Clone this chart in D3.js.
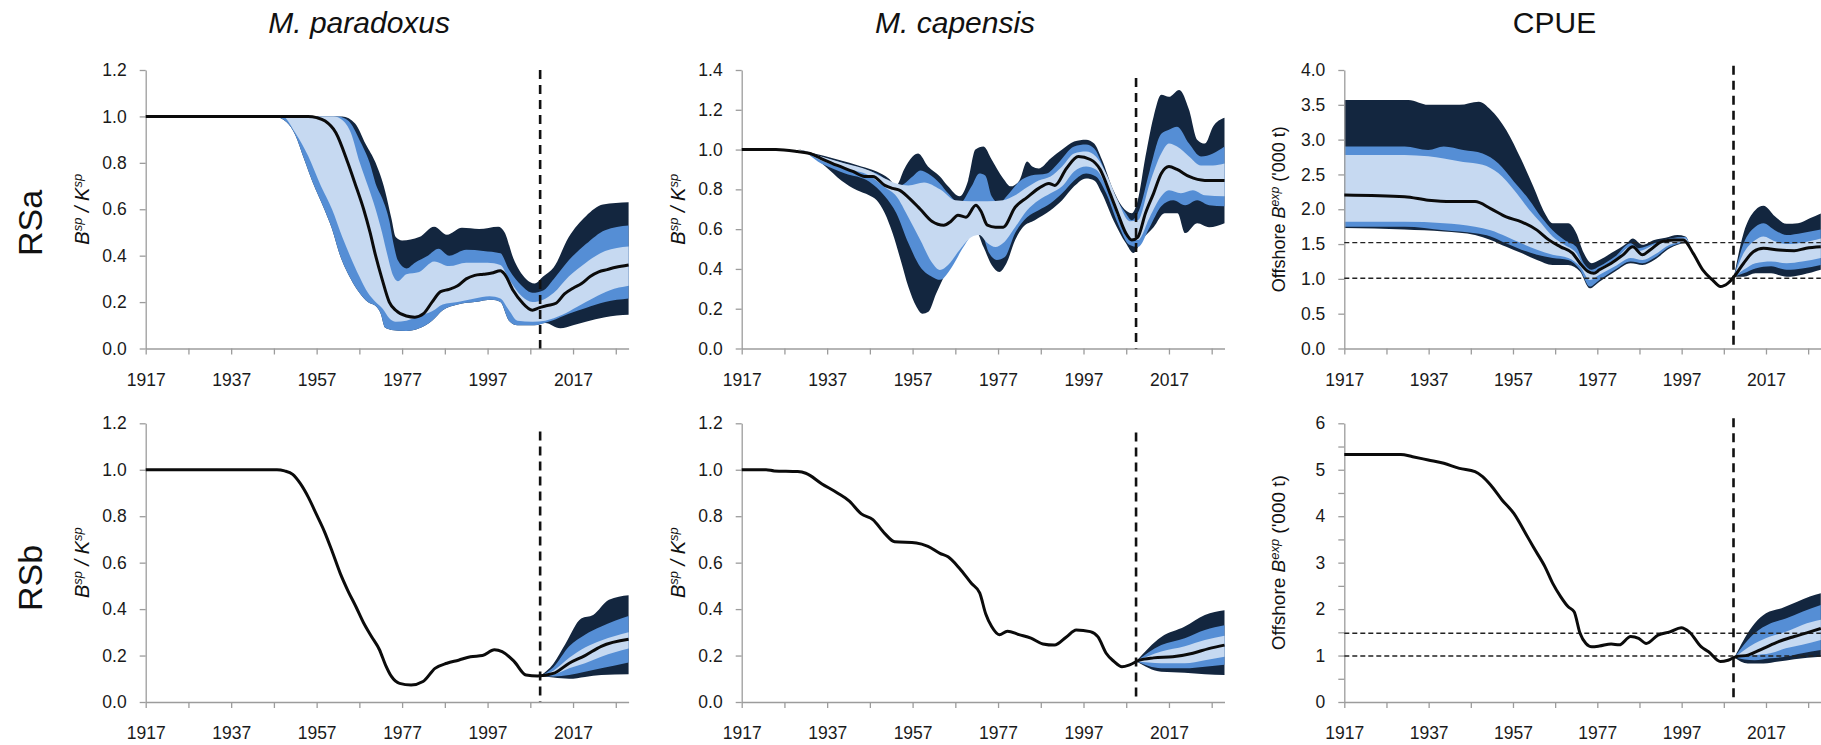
<!DOCTYPE html>
<html>
<head>
<meta charset="utf-8">
<script src="https://cdn.jsdelivr.net/npm/d3@7"></script>
<style>
  html, body { margin: 0; padding: 0; background: #fff; }
  svg { display: block; }
  .tick text { font-family: "Liberation Sans Narrow", "Liberation Sans", Arial, sans-serif; font-size: 17.5px; fill: #1a1a1a; }
  .domain, .tick line { stroke: #9c9c9c; stroke-width: 1.3px; }
  .title { font-family: "Liberation Sans", Arial, sans-serif; font-size: 30px; fill: #111; text-anchor: middle; }
  .rowlab { font-family: "Liberation Sans Narrow", "Liberation Sans", Arial, sans-serif; font-size: 34px; fill: #111; text-anchor: middle; }
  .ytitle { font-family: "Liberation Sans", Arial, sans-serif; fill: #111; text-anchor: middle; }
</style>
</head>
<body>
<svg id="chart" width="1821" height="745"></svg>
<script>
// year ticks (every 10 yrs, labelled every 20)
const xTicks = [1917, 1927, 1937, 1947, 1957, 1967, 1977, 1987, 1997, 2007, 2017, 2027];
const xLabels = [1917, 1937, 1957, 1977, 1997, 2017];
const projYear = 2009.3;

// ---- M. paradoxus, RSa ----
const paraA_med = [[1917,1],[1955,1],[1957,0.995],[1959,0.98],[1961.5,0.93],[1964.3,0.8],[1966,0.71],[1968,0.6],[1969.5,0.5],[1970.8,0.4],[1972.3,0.3],[1974,0.2],[1975.5,0.165],[1978,0.14],[1980,0.135],[1982,0.15],[1984,0.2],[1986,0.245],[1988,0.255],[1990,0.27],[1992,0.3],[1994,0.315],[1996,0.32],[1998,0.325],[2000,0.335],[2001,0.32],[2003,0.25],[2005,0.2],[2007.5,0.165],[2009,0.175],[2011,0.185],[2013,0.195],[2015,0.235],[2017,0.26],[2019,0.28],[2021,0.31],[2023,0.33],[2025,0.34],[2027,0.35],[2030,0.36]];
const paraA_hi1 = [[1917,1],[1961,1],[1963,0.985],[1965,0.93],[1967.1,0.8],[1969,0.7],[1970.8,0.6],[1972.3,0.5],[1973.6,0.4],[1975,0.31],[1976,0.29],[1978,0.32],[1981,0.33],[1984.5,0.375],[1988,0.355],[1992,0.37],[1997,0.37],[2000,0.36],[2002,0.3],[2005,0.225],[2007.5,0.2],[2010,0.21],[2012.5,0.24],[2016,0.31],[2020,0.37],[2024.5,0.42],[2030,0.44]];
const paraA_lo1 = [[1917,1],[1949,1],[1952,0.93],[1955,0.83],[1958,0.7],[1960.6,0.6],[1963,0.48],[1964.8,0.4],[1967,0.31],[1969,0.24],[1970.8,0.2],[1972.5,0.17],[1974,0.13],[1975.5,0.115],[1978,0.12],[1981,0.14],[1984,0.16],[1986.5,0.19],[1990,0.2],[1994,0.215],[1997.5,0.225],[2000,0.215],[2002,0.165],[2004,0.12],[2007.5,0.115],[2010.5,0.12],[2014.5,0.145],[2018,0.18],[2022,0.22],[2025.5,0.25],[2030,0.27]];
const paraA_hi2 = [[1917,1],[1962,1],[1964.5,0.98],[1967,0.9],[1969.4,0.8],[1971,0.7],[1972.5,0.64],[1974,0.55],[1975,0.45],[1976,0.38],[1978,0.345],[1980,0.37],[1983,0.4],[1985.5,0.43],[1988,0.4],[1992,0.425],[1996,0.42],[2000,0.41],[2002,0.34],[2005,0.27],[2007.5,0.24],[2010,0.25],[2012.5,0.3],[2016,0.38],[2020,0.45],[2024.5,0.51],[2030,0.53]];
const paraA_lo2 = [[1917,1],[1947,1],[1950,0.975],[1952,0.92],[1954,0.82],[1956,0.72],[1958.8,0.6],[1960.5,0.52],[1962.5,0.4],[1965,0.3],[1967,0.24],[1969,0.2],[1971,0.18],[1972,0.15],[1973,0.09],[1974.5,0.08],[1978,0.075],[1981,0.087],[1984,0.12],[1986.5,0.165],[1990,0.19],[1994,0.2],[1998,0.21],[2000,0.2],[2002,0.12],[2004,0.1],[2007.5,0.1],[2012,0.12],[2016,0.15],[2020,0.175],[2024.5,0.2],[2030,0.215]];
const paraA_hi3 = [[1917,1],[1963,1],[1966,0.97],[1968.5,0.88],[1970.8,0.8],[1973,0.68],[1974.5,0.56],[1975.5,0.48],[1977,0.465],[1981,0.48],[1984.5,0.525],[1987.5,0.49],[1991,0.52],[1995,0.515],[1999.5,0.525],[2001,0.5],[2003,0.39],[2006,0.3],[2008,0.28],[2010,0.31],[2012.5,0.35],[2016,0.48],[2020,0.57],[2024,0.62],[2030,0.63]];
const paraA_lo3 = [[1917,1],[1947,1],[1950,0.975],[1952,0.92],[1954,0.82],[1956,0.72],[1958.8,0.6],[1960.5,0.52],[1962.5,0.4],[1965,0.3],[1967,0.24],[1969,0.2],[1971,0.18],[1972,0.15],[1973,0.09],[1974.5,0.08],[1978,0.075],[1981,0.087],[1984,0.12],[1986.5,0.165],[1990,0.19],[1994,0.2],[1998,0.21],[2000,0.2],[2002,0.12],[2004,0.1],[2008,0.1],[2010.5,0.11],[2014,0.087],[2017,0.1],[2020,0.115],[2024.5,0.135],[2030,0.145]];

// ---- M. capensis, RSa ----
const capeA_med = [[1917,1],[1925,1],[1930,0.99],[1933,0.98],[1935.6,0.955],[1939.4,0.92],[1943,0.89],[1945.8,0.865],[1947.7,0.865],[1950.5,0.82],[1952.3,0.805],[1954,0.795],[1956,0.76],[1958.8,0.7],[1961.5,0.64],[1964.3,0.62],[1966,0.64],[1967.6,0.67],[1969.5,0.66],[1971.8,0.72],[1973,0.69],[1974.5,0.62],[1976.4,0.61],[1978.2,0.61],[1981,0.71],[1983.8,0.76],[1986.5,0.805],[1988.9,0.83],[1990.3,0.82],[1993,0.905],[1995.8,0.965],[1998.6,0.95],[2000.9,0.9],[2003.2,0.78],[2005,0.68],[2006.9,0.58],[2008.3,0.545],[2009.7,0.56],[2011.5,0.68],[2013.4,0.78],[2015.2,0.88],[2017,0.915],[2018.9,0.9],[2021.7,0.865],[2025.4,0.845],[2030,0.845]];
const capeA_hi1 = [[1917,1],[1930,1],[1935.6,0.965],[1941.2,0.93],[1946.8,0.895],[1950.5,0.855],[1953.2,0.83],[1956,0.82],[1959.7,0.835],[1963.4,0.8],[1967,0.745],[1970.8,0.74],[1974.5,0.74],[1978.2,0.745],[1981,0.77],[1983.8,0.81],[1986.5,0.845],[1989.3,0.865],[1992,0.915],[1994.8,0.98],[1997.6,0.99],[1999.9,0.965],[2002.3,0.88],[2005,0.745],[2007.8,0.64],[2009.7,0.645],[2012.5,0.83],[2015.2,0.98],[2017,1.03],[2018.9,1.015],[2021.7,0.965],[2024.5,0.92],[2027.3,0.92],[2030,0.93]];
const capeA_lo1 = [[1917,1],[1930,1],[1935.6,0.945],[1941.2,0.905],[1946.8,0.87],[1950.5,0.81],[1953.2,0.765],[1956,0.66],[1958.8,0.545],[1961.6,0.43],[1963.4,0.395],[1965.3,0.42],[1968,0.495],[1970.8,0.56],[1972.6,0.57],[1974.5,0.53],[1976.4,0.51],[1978.2,0.53],[1981,0.61],[1983.8,0.695],[1986.5,0.745],[1989.3,0.78],[1992,0.815],[1994.8,0.89],[1997.6,0.915],[1999.9,0.9],[2002.3,0.815],[2005,0.66],[2007.8,0.555],[2009.7,0.545],[2012.5,0.66],[2015.2,0.765],[2017,0.795],[2019.8,0.78],[2022.6,0.795],[2025.4,0.77],[2030,0.765]];
const capeA_hi2 = [[1917,1],[1930,1],[1933,0.98],[1939.4,0.94],[1945,0.905],[1948.6,0.88],[1952.3,0.83],[1954,0.82],[1957,0.865],[1958.8,0.895],[1960.6,0.88],[1963.4,0.83],[1965.3,0.78],[1968,0.73],[1970.8,0.815],[1972.6,0.88],[1974,0.87],[1975.5,0.765],[1977.3,0.73],[1979,0.765],[1982,0.84],[1984.7,0.87],[1988.4,0.88],[1991,0.93],[1994.8,1.015],[1997.6,1.025],[1999.5,1.005],[2001.3,0.93],[2004,0.78],[2006.9,0.68],[2008.3,0.645],[2010,0.695],[2012.5,0.895],[2015.2,1.08],[2017,1.1],[2018.9,1.115],[2021.7,1.03],[2024.5,0.965],[2027.3,0.98],[2030,1.015]];
const capeA_lo2 = [[1917,1],[1930,1],[1935.6,0.93],[1941.2,0.88],[1946.8,0.84],[1950.5,0.765],[1953.2,0.68],[1956,0.53],[1958.8,0.41],[1961.6,0.36],[1963.4,0.345],[1966.2,0.41],[1968.9,0.51],[1971.7,0.58],[1973,0.58],[1974.9,0.48],[1976.7,0.445],[1978.6,0.46],[1981,0.58],[1983.8,0.66],[1986.5,0.695],[1989.3,0.73],[1992,0.78],[1994.8,0.845],[1997.6,0.88],[1999.9,0.865],[2002.3,0.78],[2005,0.63],[2007.8,0.52],[2009.7,0.51],[2012.5,0.61],[2015.2,0.715],[2018,0.745],[2020.8,0.72],[2023.6,0.745],[2026.4,0.72],[2030,0.715]];
const capeA_hi3 = [[1917,1],[1930,1],[1933,0.985],[1939.4,0.95],[1945,0.915],[1948.6,0.89],[1951.4,0.855],[1953.2,0.82],[1955,0.9],[1957,0.965],[1958.3,0.98],[1960.6,0.915],[1963.4,0.865],[1965.3,0.815],[1968,0.765],[1970,0.845],[1971.7,1.0],[1973.6,1.015],[1975.5,0.95],[1978.2,0.855],[1980,0.815],[1982,0.845],[1983.8,0.94],[1985,0.915],[1986.5,0.905],[1989.3,0.955],[1992,1.0],[1994.8,1.04],[1997.6,1.05],[1999.5,1.03],[2001.3,0.95],[2004,0.795],[2006,0.715],[2008.3,0.68],[2009.7,0.745],[2011.5,0.965],[2013.4,1.165],[2015.2,1.275],[2017,1.265],[2019.4,1.3],[2021.7,1.2],[2023.6,1.05],[2025.4,1.03],[2027.3,1.115],[2030,1.16]];
const capeA_lo3 = [[1917,1],[1930,1],[1933,0.975],[1936.6,0.915],[1940.3,0.845],[1944,0.795],[1946.8,0.77],[1948.6,0.745],[1950.5,0.68],[1952.3,0.58],[1954.2,0.445],[1956,0.31],[1957.9,0.21],[1959.3,0.175],[1960.7,0.185],[1962.5,0.275],[1964.3,0.36],[1966.2,0.445],[1968,0.51],[1970,0.58],[1971.7,0.595],[1973.6,0.51],[1975.5,0.42],[1977.3,0.385],[1979,0.43],[1981,0.545],[1982.8,0.61],[1985.6,0.645],[1989.3,0.695],[1992,0.745],[1994.8,0.815],[1997.6,0.855],[1999.5,0.845],[2001.3,0.78],[2004,0.645],[2006.9,0.53],[2008.7,0.48],[2010.6,0.545],[2013.4,0.61],[2016,0.68],[2019,0.68],[2020.8,0.58],[2023.6,0.63],[2026.4,0.61],[2030,0.63]];

// ---- CPUE, RSa ('000 t); null splits the historic and projected bands ----
const cpueA_med = [[1917,2.205],[1931.3,2.18],[1936.9,2.13],[1942.4,2.11],[1948,2.11],[1951.7,2.01],[1955.4,1.89],[1959,1.82],[1962.7,1.7],[1965.5,1.56],[1968.3,1.46],[1971.1,1.37],[1972.9,1.225],[1974.8,1.105],[1976.2,1.08],[1977.5,1.13],[1980.3,1.225],[1983.1,1.345],[1985.4,1.46],[1987.7,1.345],[1989.5,1.415],[1992.3,1.535],[1995.1,1.56],[1997.4,1.56],[1999.7,1.37],[2002,1.13],[2004.3,0.985],[2006.2,0.89],[2008,0.94],[2009.4,1.03],[2011.7,1.225],[2014,1.39],[2016.4,1.44],[2020,1.415],[2023.7,1.405],[2026.5,1.44],[2030,1.46]];
const cpueA_hi1 = [[1917,2.78],[1931.3,2.78],[1936.9,2.76],[1940.6,2.73],[1945.2,2.68],[1949.8,2.64],[1953.5,2.52],[1957.2,2.28],[1960.9,1.99],[1963.7,1.8],[1966.4,1.61],[1969.2,1.49],[1972,1.37],[1973.8,1.18],[1975.7,1.08],[1977.5,1.15],[1981.2,1.27],[1984.9,1.46],[1986.8,1.4],[1990.5,1.49],[1994.2,1.57],[1997.9,1.58],[1999,1.47], null, [2009.4,1.03],[2011.7,1.37],[2014.5,1.56],[2016.4,1.61],[2019.1,1.54],[2021.9,1.5],[2025.6,1.52],[2030,1.58]];
const cpueA_lo1 = [[1917,1.82],[1931.3,1.82],[1940.6,1.8],[1948,1.75],[1951.7,1.7],[1955.4,1.61],[1959,1.51],[1962.7,1.42],[1966.4,1.345],[1970.1,1.3],[1972.9,1.18],[1975.2,0.985],[1977.5,1.06],[1981.2,1.18],[1984.9,1.3],[1987.7,1.27],[1990.5,1.345],[1994.2,1.49],[1997.9,1.535],[1999,1.47], null, [2009.4,1.03],[2011.7,1.13],[2014.5,1.225],[2018.2,1.25],[2021.9,1.225],[2025.6,1.25],[2030,1.3]];
const cpueA_hi2 = [[1917,2.9],[1931.3,2.9],[1936.9,2.85],[1940.6,2.9],[1945.2,2.85],[1949.8,2.8],[1953.5,2.66],[1957.2,2.4],[1960.9,2.13],[1963.7,1.89],[1966.4,1.7],[1969.2,1.56],[1972,1.46],[1973.8,1.225],[1975.7,1.13],[1977.5,1.18],[1981.2,1.32],[1984.9,1.51],[1986.8,1.44],[1990.5,1.51],[1994.2,1.58],[1997.9,1.6],[1999,1.47], null, [2009.4,1.03],[2011.7,1.51],[2014.5,1.75],[2016.4,1.8],[2019.1,1.7],[2021.9,1.63],[2025.6,1.66],[2030,1.71]];
const cpueA_lo2 = [[1917,1.75],[1931.3,1.75],[1940.6,1.7],[1948,1.655],[1951.7,1.61],[1955.4,1.51],[1959,1.42],[1962.7,1.345],[1966.4,1.3],[1970.1,1.27],[1972.9,1.13],[1975.2,0.89],[1977.5,0.985],[1981.2,1.13],[1984.9,1.25],[1987.7,1.225],[1990.5,1.3],[1994.2,1.46],[1997.9,1.52],[1999,1.47], null, [2009.4,1.03],[2011.7,1.08],[2014.5,1.15],[2018.2,1.18],[2021.9,1.13],[2025.6,1.15],[2030,1.2]];
const cpueA_hi3 = [[1917,3.57],[1932.2,3.57],[1936.9,3.5],[1944.3,3.5],[1948.9,3.545],[1951.7,3.43],[1955.4,3.14],[1959,2.71],[1961.8,2.33],[1964.6,1.94],[1966.4,1.8],[1970.1,1.8],[1972,1.66],[1973.8,1.37],[1975.7,1.225],[1977.5,1.27],[1980.3,1.37],[1984,1.51],[1985.4,1.58],[1987.7,1.49],[1990.5,1.56],[1993.2,1.59],[1996,1.63],[1997.9,1.61],[1999,1.47], null, [2009.4,1.03],[2011.7,1.66],[2014.5,1.99],[2016.4,2.05],[2019.1,1.9],[2021.9,1.79],[2024.6,1.8],[2027.4,1.87],[2030,1.94]];
const cpueA_lo3 = [[1917,1.73],[1931.3,1.71],[1940.6,1.68],[1948,1.63],[1951.7,1.56],[1955.4,1.46],[1959,1.37],[1962.7,1.27],[1966.4,1.2],[1970.1,1.2],[1972.9,1.105],[1975.2,0.865],[1977.5,0.96],[1981.2,1.105],[1984.9,1.225],[1987.7,1.2],[1990.5,1.27],[1994.2,1.44],[1997.9,1.51],[1999,1.47], null, [2009.4,1.03],[2011.7,1.03],[2014.5,1.08],[2018.2,1.08],[2021.9,1.03],[2025.6,1.06],[2030,1.13]];
const cpueA_ref = [1.52, 1.01];

// ---- M. paradoxus, RSb ----
const paraB_med = [[1917,1],[1947.7,1],[1949.5,0.995],[1951.4,0.98],[1953.2,0.94],[1955.1,0.88],[1956.9,0.81],[1958.8,0.735],[1960.6,0.65],[1962.5,0.555],[1964.3,0.48],[1966.2,0.41],[1968,0.34],[1969.9,0.28],[1971.7,0.225],[1973.1,0.16],[1974.5,0.11],[1976.4,0.08],[1979.1,0.073],[1981.9,0.088],[1984.7,0.145],[1987.5,0.167],[1990.2,0.18],[1993,0.195],[1995.8,0.2],[1998.6,0.225],[2000.4,0.217],[2003.2,0.175],[2006,0.116],[2008.7,0.112],[2012.4,0.123],[2016.1,0.167],[2019.8,0.2],[2023.6,0.24],[2030,0.27]];
const paraB_hi1 = [[2009.3,0.112],[2012.4,0.135],[2016.1,0.19],[2019.8,0.235],[2023.6,0.265],[2030,0.3]];
const paraB_lo1 = [[2009.3,0.112],[2012.4,0.118],[2016.1,0.145],[2019.8,0.167],[2023.6,0.195],[2030,0.23]];
const paraB_hi2 = [[2009.3,0.112],[2012.4,0.15],[2016.1,0.24],[2019.8,0.29],[2023.6,0.325],[2030,0.37]];
const paraB_lo2 = [[2009.3,0.112],[2012.4,0.11],[2016.1,0.116],[2019.8,0.13],[2023.6,0.145],[2030,0.17]];
const paraB_hi3 = [[2009.3,0.112],[2012.4,0.165],[2015.2,0.25],[2018.9,0.36],[2021.7,0.375],[2025.4,0.44],[2030,0.46]];
const paraB_lo3 = [[2009.3,0.112],[2012.4,0.105],[2016.1,0.1],[2019.8,0.108],[2023.6,0.116],[2030,0.12]];

// ---- M. capensis, RSb ----
const capeB_med = [[1917,1],[1922.7,1],[1924.6,0.995],[1930.1,0.992],[1932,0.985],[1935.7,0.94],[1939.4,0.9],[1942.2,0.865],[1945,0.81],[1947.7,0.785],[1950.5,0.725],[1952.8,0.69],[1957.9,0.685],[1960.6,0.67],[1963.4,0.64],[1965.3,0.625],[1968,0.575],[1970.8,0.51],[1972.7,0.47],[1974.1,0.38],[1975.5,0.325],[1977.3,0.29],[1979.2,0.305],[1981.9,0.29],[1984.7,0.275],[1987.5,0.25],[1990.2,0.245],[1993,0.28],[1995.3,0.31],[1998.6,0.303],[2000.4,0.28],[2002.3,0.21],[2004.1,0.175],[2006,0.152],[2007.8,0.16],[2010.1,0.18],[2013.4,0.19],[2017.9,0.195],[2022.6,0.21],[2026.3,0.23],[2030,0.245]];
const capeB_hi1 = [[2009.3,0.175],[2015.2,0.217],[2020.7,0.24],[2025.4,0.267],[2030,0.285]];
const capeB_lo1 = [[2009.3,0.175],[2015.2,0.167],[2020.7,0.167],[2025.4,0.18],[2030,0.195]];
const capeB_hi2 = [[2009.3,0.175],[2015.2,0.245],[2020.7,0.275],[2025.4,0.31],[2030,0.33]];
const capeB_lo2 = [[2009.3,0.175],[2015.2,0.145],[2020.7,0.145],[2025.4,0.152],[2030,0.16]];
const capeB_hi3 = [[2009.3,0.175],[2015.2,0.28],[2020.7,0.325],[2025.4,0.375],[2030,0.395]];
const capeB_lo3 = [[2009.3,0.175],[2015.2,0.13],[2020.7,0.126],[2025.4,0.12],[2030,0.116]];

// ---- CPUE, RSb ----
const cpueB_med = [[1917,5.33],[1930.4,5.33],[1933.2,5.28],[1936.9,5.21],[1940.6,5.14],[1944.3,5.03],[1948,4.96],[1949.8,4.85],[1951.7,4.67],[1954.4,4.35],[1957.2,4.06],[1960,3.63],[1961.8,3.34],[1964.6,2.91],[1966.4,2.56],[1968.3,2.27],[1970.1,2.05],[1971.5,1.945],[1972.9,1.48],[1974.3,1.26],[1975.7,1.19],[1977.5,1.205],[1980.3,1.25],[1982.2,1.23],[1984.9,1.41],[1986.8,1.37],[1988.6,1.26],[1991.4,1.44],[1994.2,1.51],[1996.9,1.6],[1998.8,1.51],[2001.6,1.19],[2003.4,1.08],[2006.2,0.87],[2008,0.9],[2009.9,0.975],[2012.7,1.01],[2016.4,1.155],[2020,1.3],[2023.7,1.41],[2027.4,1.51],[2030,1.585]];
const cpueB_hi1 = [[2009.5,0.96],[2014.3,1.26],[2018,1.41],[2021.7,1.51],[2025.6,1.66],[2030,1.77]];
const cpueB_lo1 = [[2009.5,0.96],[2014.3,1.01],[2018,1.05],[2021.7,1.155],[2025.6,1.23],[2030,1.335]];
const cpueB_hi2 = [[2009.5,0.96],[2014.3,1.48],[2018,1.69],[2021.7,1.8],[2025.6,1.945],[2030,2.09]];
const cpueB_lo2 = [[2009.5,0.96],[2014.3,0.9],[2018,0.94],[2021.7,0.975],[2025.6,1.05],[2030,1.12]];
const cpueB_hi3 = [[2009.5,0.96],[2014.3,1.69],[2017,1.91],[2020.7,2.02],[2024.4,2.16],[2027.4,2.27],[2030,2.34]];
const cpueB_lo3 = [[2009.5,0.96],[2012.7,0.83],[2016.4,0.83],[2020,0.87],[2023.7,0.92],[2030,0.975]];
const cpueB_ref = [1.48, 0.99];

const BAND_COLORS = ["#13263f", "#558ed5", "#c6d9f1"];

const COLS = [
  { left: 145.7, right: 628.6, title: "M. paradoxus", italic: true },
  { left: 741.7, right: 1224.5, title: "M. capensis", italic: true },
  { left: 1344.3, right: 1820.8, title: "CPUE", italic: false }
];
const ROWS = [
  { bottom: 348.5, top: 70, label: "RSa", labelY: 223 },
  { bottom: 702, top: 423.3, label: "RSb", labelY: 578 }
];

const panels = [
  { col: 0, row: 0, ymax: 1.2, step: 0.2, med: paraA_med, bands: [[paraA_lo3, paraA_hi3], [paraA_lo2, paraA_hi2], [paraA_lo1, paraA_hi1]], refs: [], vTop: 1.2, yt: "bk" },
  { col: 1, row: 0, ymax: 1.4, step: 0.2, med: capeA_med, bands: [[capeA_lo3, capeA_hi3], [capeA_lo2, capeA_hi2], [capeA_lo1, capeA_hi1]], refs: [], vTop: 1.36, yt: "bk" },
  { col: 2, row: 0, ymax: 4, step: 0.5, med: cpueA_med, bands: [[cpueA_lo3, cpueA_hi3], [cpueA_lo2, cpueA_hi2], [cpueA_lo1, cpueA_hi1]], refs: cpueA_ref, vTop: 4.06, yt: "off", ytSize: 18 },
  { col: 0, row: 1, ymax: 1.2, step: 0.2, med: paraB_med, bands: [[paraB_lo3, paraB_hi3], [paraB_lo2, paraB_hi2], [paraB_lo1, paraB_hi1]], refs: [], vTop: 1.165, yt: "bk" },
  { col: 1, row: 1, ymax: 1.2, step: 0.2, med: capeB_med, bands: [[capeB_lo3, capeB_hi3], [capeB_lo2, capeB_hi2], [capeB_lo1, capeB_hi1]], refs: [], vTop: 1.16, yt: "bk" },
  { col: 2, row: 1, ymax: 6, step: 0.5, intLabels: true, med: cpueB_med, bands: [[cpueB_lo3, cpueB_hi3], [cpueB_lo2, cpueB_hi2], [cpueB_lo1, cpueB_hi1]], refs: cpueB_ref, vTop: 6.11, yt: "off", ytSize: 19 }
];

const svg = d3.select("#chart");
svg.append("rect").attr("width", 1821).attr("height", 745).attr("fill", "#fff");

function segments(arr) {
  const out = [[]];
  arr.forEach(p => { if (p === null) out.push([]); else out[out.length - 1].push(p); });
  return out.filter(s => s.length);
}

// column titles
COLS.forEach(c => {
  svg.append("text").attr("class", "title")
    .attr("x", (c.left + c.right) / 2 - 28).attr("y", 33)
    .style("font-style", c.italic ? "italic" : "normal")
    .text(c.title);
});

// row labels
ROWS.forEach(r => {
  svg.append("text").attr("class", "rowlab")
    .attr("transform", "translate(30," + r.labelY + ") rotate(-90)")
    .attr("dy", "0.35em")
    .text(r.label);
});

panels.forEach(p => {
  const c = COLS[p.col], r = ROWS[p.row];
  const x = d3.scaleLinear().domain([1917, 2030]).range([c.left, c.right]);
  const y = d3.scaleLinear().domain([0, p.ymax]).range([r.bottom, r.top]);
  const g = svg.append("g");

  const line = d3.line().x(d => x(d[0])).y(d => y(d[1])).curve(d3.curveMonotoneX);

  // uncertainty bands, outer to inner
  p.bands.forEach((b, i) => {
    const loS = segments(b[0]), hiS = segments(b[1]);
    hiS.forEach((hs, k) => {
      const ls = loS[k].slice().reverse();
      const d = line(hs) + line(ls).replace(/^M/, "L") + "Z";
      g.append("path").attr("d", d).attr("fill", BAND_COLORS[i]).attr("stroke", "none");
    });
  });

  // axes
  const yTicks = d3.range(0, p.ymax + 1e-9, p.step);
  const fmt = p.intLabels ? (d => Math.abs(d - Math.round(d)) < 1e-9 ? d3.format("d")(d) : "") : d3.format(".1f");
  g.append("g").attr("transform", "translate(" + c.left + ",0)")
    .call(d3.axisLeft(y).tickValues(yTicks).tickFormat(fmt).tickSizeInner(6).tickSizeOuter(0).tickPadding(13));
  g.append("g").attr("transform", "translate(0," + r.bottom + ")")
    .call(d3.axisBottom(x).tickValues(xTicks).tickFormat(d => xLabels.includes(d) ? d : "").tickSizeInner(6).tickSizeOuter(0).tickPadding(19));

  // reference lines (CPUE)
  p.refs.forEach(v => {
    g.append("line").attr("x1", x(1917)).attr("x2", x(2030)).attr("y1", y(v)).attr("y2", y(v))
      .attr("stroke", "#222").attr("stroke-width", 1.4).attr("stroke-dasharray", "5,3");
  });

  // median
  g.append("path").attr("d", line(p.med)).attr("fill", "none")
    .attr("stroke", "#0b0b0b").attr("stroke-width", 3).attr("stroke-linejoin", "round");

  // start of projections
  g.append("line").attr("x1", x(projYear)).attr("x2", x(projYear))
    .attr("y1", y(p.vTop)).attr("y2", y(0))
    .attr("stroke", "#111").attr("stroke-width", 2.6).attr("stroke-dasharray", "9,6");

  // y axis title
  const cy = (r.top + r.bottom) / 2;
  const t = svg.append("text").attr("class", "ytitle")
    .attr("transform", "translate(" + (c.left - (p.yt === "bk" ? 64 : 66)) + "," + cy + ") rotate(-90)")
    .attr("dy", "0.35em");
  if (p.yt === "bk") {
    t.style("font-size", "20px").style("font-style", "italic");
    t.append("tspan").text("B");
    t.append("tspan").attr("dy", -7).style("font-size", "13px").text("sp");
    t.append("tspan").attr("dy", 7).text(" / ");
    t.append("tspan").text("K");
    t.append("tspan").attr("dy", -7).style("font-size", "13px").text("sp");
  } else {
    t.style("font-size", p.ytSize + "px");
    t.append("tspan").text("Offshore ");
    t.append("tspan").style("font-style", "italic").text("B");
    t.append("tspan").attr("dy", -6).style("font-style", "italic").style("font-size", (p.ytSize * 0.68) + "px").text("exp");
    t.append("tspan").attr("dy", 6).text(" ('000 t)");
  }
});
</script>
</body>
</html>
